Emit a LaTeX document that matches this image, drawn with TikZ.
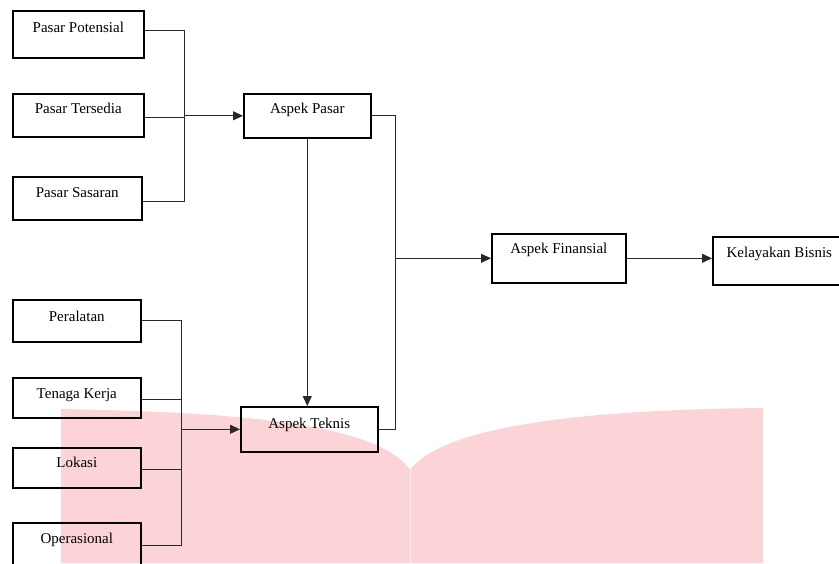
\documentclass[tikz,border=0pt]{standalone}
\usepackage{fontspec}
\setmainfont{Liberation Serif}
\usetikzlibrary{arrows.meta, positioning, calc}
\definecolor{tandaair}{RGB}{252,211,215}
\definecolor{garisabu}{RGB}{40,40,40}

\begin{document}
\begin{tikzpicture}[x=1pt, y=-1pt,
    kotak/.style={draw, line width=1.6pt, inner sep=0pt, anchor=north west,
        font=\fontsize{15}{17}\selectfont},
    garis/.style={line width=0.9pt, draw=garisabu},
    panah/.style={garis, -{Triangle[length=10pt, width=9pt]}}]
    \useasboundingbox (0,0) rectangle (839,563);

    % watermark
    \fill[tandaair] (61,563) -- (61,409) .. controls (200,412) and (375,418) .. (410,470)
        .. controls (440,430) and (560,410) .. (763,408) -- (763,563) -- cycle;
    \draw[white!60!tandaair, line width=1pt] (410,470) -- (410,563);

    % faktor pasar
    \node[kotak, minimum width=131pt, text height=22pt, text depth=25pt] (pp) at (12,10) {Pasar Potensial};
    \node[kotak, minimum width=131pt, text height=20pt, text depth=23pt] (pt) at (12,93) {Pasar Tersedia};
    \node[kotak, minimum width=129pt, text height=21pt, text depth=22pt] (ps) at (12,176) {Pasar Sasaran};

    % faktor teknis
    \node[kotak, minimum width=128pt, text height=22pt, text depth=20pt] (pr) at (12,299) {Peralatan};
    \node[kotak, minimum width=128pt, text height=21pt, text depth=19pt] (tk) at (12,377) {Tenaga Kerja};
    \node[kotak, minimum width=128pt, text height=20pt, text depth=20pt] (lk) at (12,447) {Lokasi};
    \node[kotak, minimum width=128pt, text height=21pt, text depth=30pt] (op) at (12,522) {Operasional};

    % aspek
    \node[kotak, minimum width=127pt, text height=20pt, text depth=24pt] (ap) at (243,93) {Aspek Pasar};
    \node[kotak, minimum width=137pt, text height=22pt, text depth=23pt] (at) at (240,406) {Aspek Teknis};
    \node[kotak, minimum width=134pt, text height=20pt, text depth=29pt] (af) at (491,233) {Aspek Finansial};
    \node[kotak, minimum width=133pt, text height=21pt, text depth=27pt] (kb) at (712,236) {Kelayakan Bisnis};

    \coordinate (j1) at (184,0);
    \coordinate (j2) at (395,0);
    \coordinate (j3) at (181,0);

    % ke aspek pasar
    \draw[garis] ([yshift=4pt]pp.east) -- ([yshift=4pt]pp.east -| j1) -- ([yshift=-3pt]ps.east -| j1) -- ([yshift=-3pt]ps.east);
    \draw[garis] ([yshift=-2pt]pt.east) -- ([yshift=-2pt]pt.east -| j1);
    \draw[panah] (ap.west -| j1) -- (ap.west);

    % ke aspek teknis
    \draw[garis] (pr.east) -- (pr.east -| j3) -- ([yshift=3pt]op.east -| j3) -- ([yshift=3pt]op.east);
    \draw[garis] ([yshift=-2pt]tk.east) -- ([yshift=-2pt]tk.east -| j3);
    \draw[garis] ([yshift=-2pt]lk.east) -- ([yshift=-2pt]lk.east -| j3);
    \draw[panah] (at.west -| j3) -- (at.west);

    \draw[panah] (ap.south) -- (ap.south |- at.north);

    % ke aspek finansial
    \draw[garis] (ap.east) -- (ap.east -| j2) -- (at.east -| j2) -- (at.east);
    \draw[panah] (af.west -| j2) -- (af.west);
    \draw[panah] (af.east) -- (af.east -| kb.west);
\end{tikzpicture}
\end{document}
